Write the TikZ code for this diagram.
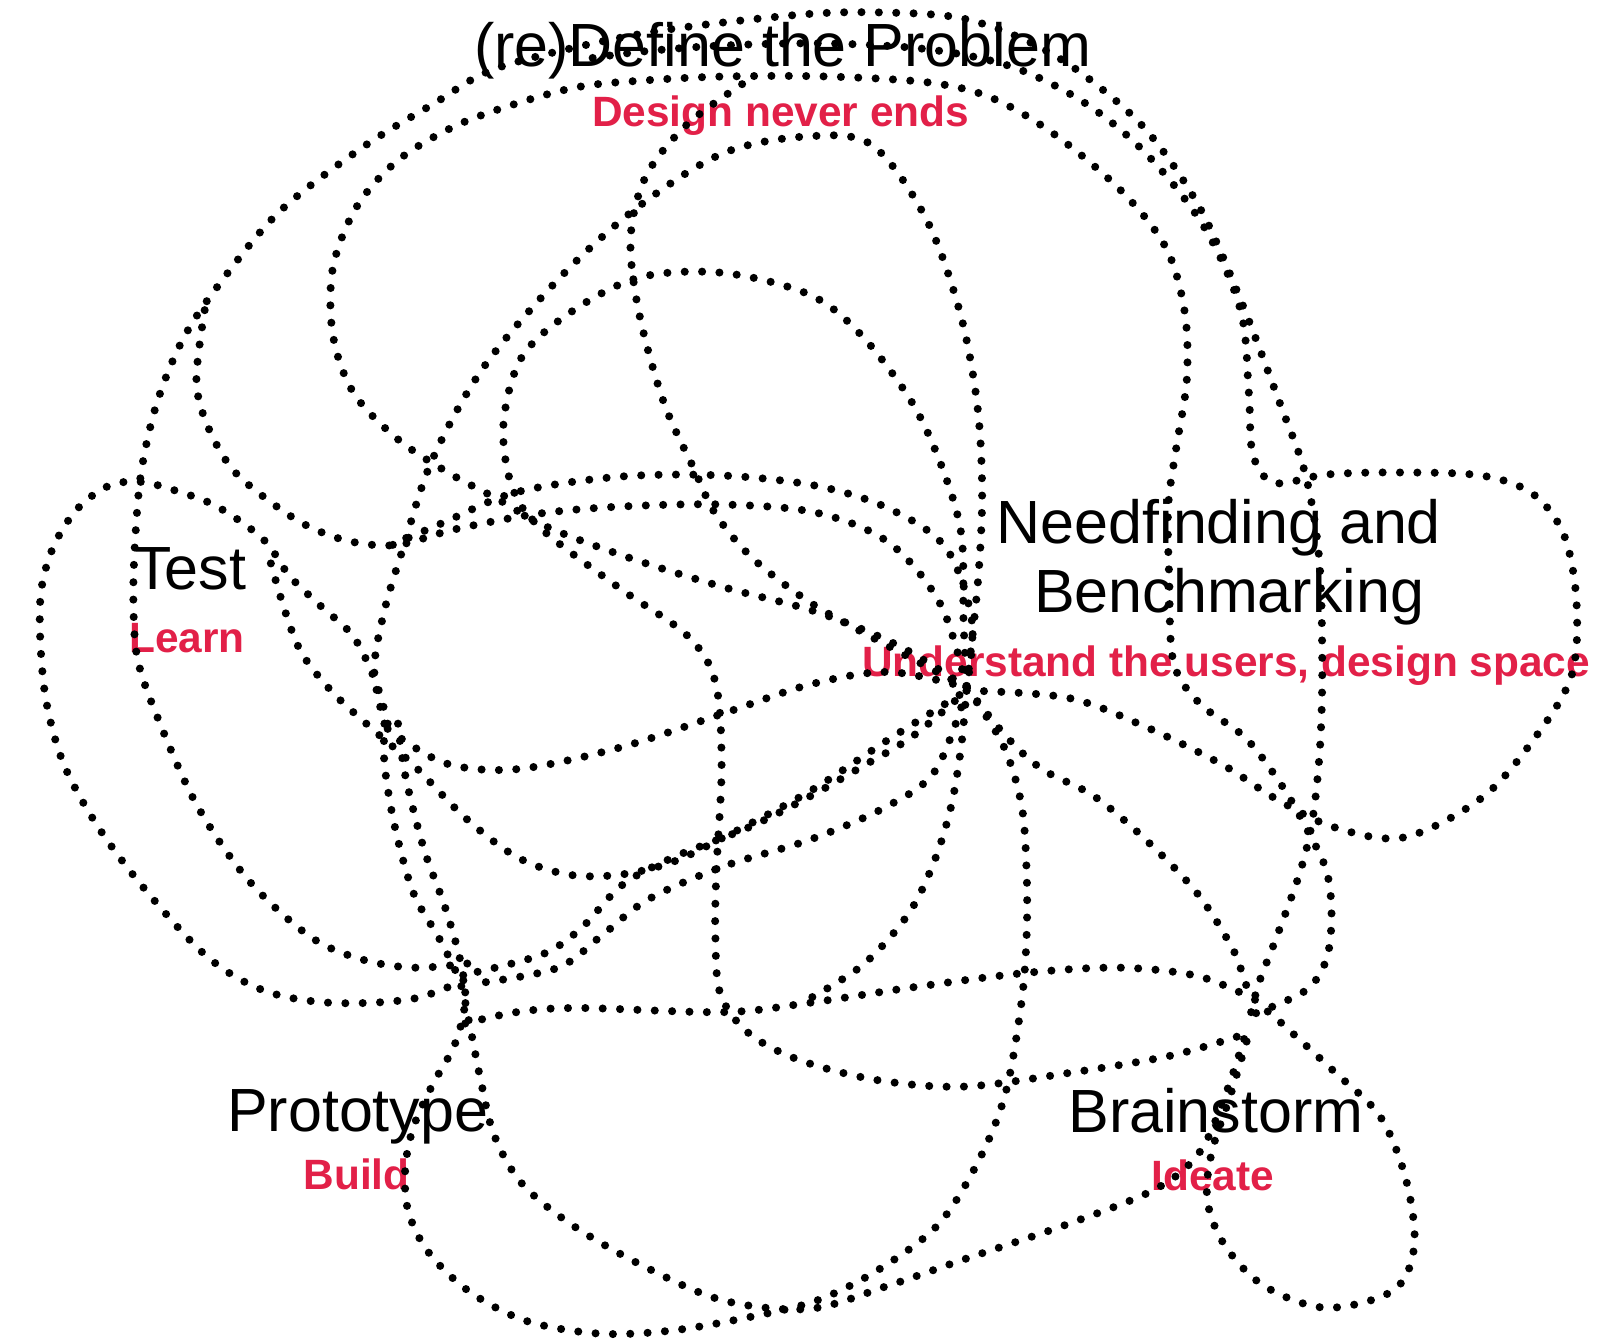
\documentclass[tikz,border=0pt]{standalone}
\usepackage{fontspec}
\setmainfont{Liberation Sans}
\definecolor{lblred}{RGB}{226,32,72}
\tikzset{
  dots/.style={line width=3.9pt, line cap=round, dash pattern=on 0pt off 8.4pt, black},
  bigtxt/.style={font=\fontsize{29.5}{32}\selectfont, text=black, inner sep=0pt, anchor=base},
  subtxt/.style={font=\bfseries\fontsize{20.5}{22}\selectfont, text=lblred, inner sep=0pt, anchor=base},
}
\begin{document}
\begin{tikzpicture}[x=0.5pt,y=-0.5pt]
\path[use as bounding box, fill=white] (0,0) rectangle (1568,1298);

% labels
\node[bigtxt] (def) at (757,64) {(re)Define the Problem};
\node[subtxt] (defsub) at (755,122) {Design never ends};
\node[bigtxt] (test) at (184,570) {Test};
\node[subtxt] (testsub) at (181,631) {Learn};
\node[bigtxt] (need1) at (1179,526) {Needfinding and};
\node[bigtxt] (need2) at (1189,592) {Benchmarking};
\node[subtxt] (needsub) at (1186,654) {Understand the users, design space};
\node[bigtxt] (proto) at (346,1094) {Prototype};
\node[subtxt] (protosub) at (345,1151) {Build};
\node[bigtxt] (brain) at (1176,1095) {Brainstorm};
\node[subtxt] (brainsub) at (1173,1152) {Ideate};

% outer arc
\draw[dots] plot[smooth, tension=0.55] coordinates {(452,932) (400,936) (350,928) (300,906) (240,851) (190,778) (152,693) (133,637) (129,580) (131,518) (137,454) (152,389) (177,328) (212,275) (270,205) (350,143) (420,100) (475,68) (560,45) (650,28) (776,14) (850,12) (927,17) (990,38) (1045,70) (1108,125) (1160,200) (1200,290) (1238,390) (1263,460) (1276,540) (1279,640) (1277,720) (1270,790) (1258,842) (1235,906) (1218,950) (1210,980)};
% test loop
\draw[dots] plot[smooth, tension=0.55] coordinates {(375,700) (364,661) (342,616) (310,586) (280,557) (255,522) (210,490) (168,474) (135,466) (105,470) (75,492) (52,528) (40,570) (39,620) (45,680) (62,740) (95,800) (140,860) (200,925) (255,958) (320,970) (400,966) (455,945)};
% second top arc
\draw[dots] plot[smooth, tension=0.55] coordinates {(1215,980) (1263,958) (1283,928) (1288,885) (1283,842) (1263,800) (1240,760) (1205,714) (1160,680) (1135,640) (1131,560) (1130,490) (1138,432) (1148,367) (1146,302) (1128,240) (1085,185) (1020,130) (960,95) (900,80) (800,74) (700,74) (620,78) (560,84) (500,100) (440,122) (385,155) (345,200) (322,259) (322,324) (342,380) (385,425) (435,458) (480,482) (530,510) (610,540) (700,568) (790,592) (870,625) (935,665)};
% arc from test hub over to hub
\draw[dots] plot[smooth, tension=0.55] coordinates {(372,700) (362,648) (372,590) (390,530) (418,445) (468,355) (545,265) (620,198) (700,148) (780,132) (843,140) (895,210) (928,300) (945,389) (950,475) (946,562) (935,665)};
% petal down to brainstorm
\draw[dots] plot[smooth, tension=0.55] coordinates {(935,665) (932,600) (930,518) (912,454) (882,389) (833,324) (783,285) (700,264) (620,268) (555,300) (505,345) (487,410) (495,470) (522,510) (598,568) (665,615) (692,660) (698,740) (693,842) (692,906) (697,962) (725,1000) (775,1026) (850,1045) (933,1051) (1033,1038) (1133,1021) (1205,1000)};
% petal up to top
\draw[dots] plot[smooth, tension=0.55] coordinates {(935,665) (850,620) (784,583) (728,540) (692,497) (672,455) (642,389) (618,302) (610,230) (625,170) (665,120) (720,80)};
% right loop
\draw[dots] plot[smooth, tension=0.55] coordinates {(935,668) (1033,675) (1108,703) (1183,740) (1233,772) (1290,800) (1358,810) (1433,772) (1483,716) (1520,654) (1525,583) (1513,518) (1483,478) (1433,460) (1350,457) (1283,459) (1233,467) (1212,440) (1208,380) (1200,300) (1165,220) (1110,150) (1050,100) (980,65) (900,48) (800,42) (700,44) (620,50) (560,58)};
% test hub to hub
\draw[dots] plot[smooth, tension=0.55] coordinates {(375,705) (430,738) (500,744) (600,723) (700,690) (784,662) (860,650) (935,665)};
\draw[dots] plot[smooth, tension=0.55] coordinates {(262,545) (276,592) (292,632) (322,670) (360,705) (400,740) (450,791) (500,829) (550,846) (600,846) (650,834) (700,810) (784,765) (860,715) (935,668)};
\draw[dots] plot[smooth, tension=0.55] coordinates {(380,527) (430,505) (500,476) (600,461) (700,460) (790,470) (860,492) (915,530) (940,600) (935,665)};
\draw[dots] plot[smooth, tension=0.55] coordinates {(198,300) (190,367) (200,410) (225,454) (265,488) (300,510) (340,524) (385,527) (440,512) (520,497) (600,490) (700,488) (790,496) (860,525) (910,585) (935,665)};
% test hub down to bottom / brainstorm
\draw[dots] plot[smooth, tension=0.55] coordinates {(372,700) (372,740) (382,800) (400,864) (425,908) (445,950) (455,995) (465,1045) (478,1098) (505,1145) (555,1186) (625,1226) (700,1258) (783,1266) (858,1244) (933,1218) (1033,1184) (1118,1150) (1160,1115) (1185,1060) (1205,1000)};
\draw[dots] plot[smooth, tension=0.55] coordinates {(385,700) (392,750) (410,821) (430,876) (445,928) (450,968) (440,1010) (418,1050) (400,1090) (392,1130) (395,1172) (415,1212) (455,1250) (510,1278) (580,1290) (650,1287) (725,1274) (790,1258) (850,1228) (908,1184) (948,1120) (973,1056) (988,970) (993,906) (993,842) (988,778) (970,720) (935,665)};
% prototype to brainstorm
\draw[dots] plot[smooth, tension=0.55] coordinates {(450,990) (500,979) (560,975) (700,979) (783,970) (883,955) (993,941) (1083,936) (1158,944) (1210,965)};
\draw[dots] plot[smooth, tension=0.55] coordinates {(935,665) (930,720) (920,780) (903,835) (878,885) (835,933) (783,966)};
% prototype hub to hub
\draw[dots] plot[smooth, tension=0.55] coordinates {(462,940) (525,923) (562,898) (602,856) (652,829) (725,800) (784,770) (833,742) (883,712) (935,668)};
\draw[dots] plot[smooth, tension=0.55] coordinates {(470,950) (540,936) (582,905) (627,870) (700,838) (784,812) (858,780) (905,745) (935,668)};
% hub to brainstorm loop
\draw[dots] plot[smooth, tension=0.55] coordinates {(935,665) (973,712) (1008,744) (1058,770) (1108,812) (1158,864) (1193,919) (1210,962) (1240,990) (1290,1036) (1335,1080) (1360,1141) (1368,1205) (1348,1248) (1283,1265) (1223,1244) (1185,1205) (1168,1162) (1172,1115) (1190,1060) (1208,1000)};
\end{tikzpicture}
\end{document}
